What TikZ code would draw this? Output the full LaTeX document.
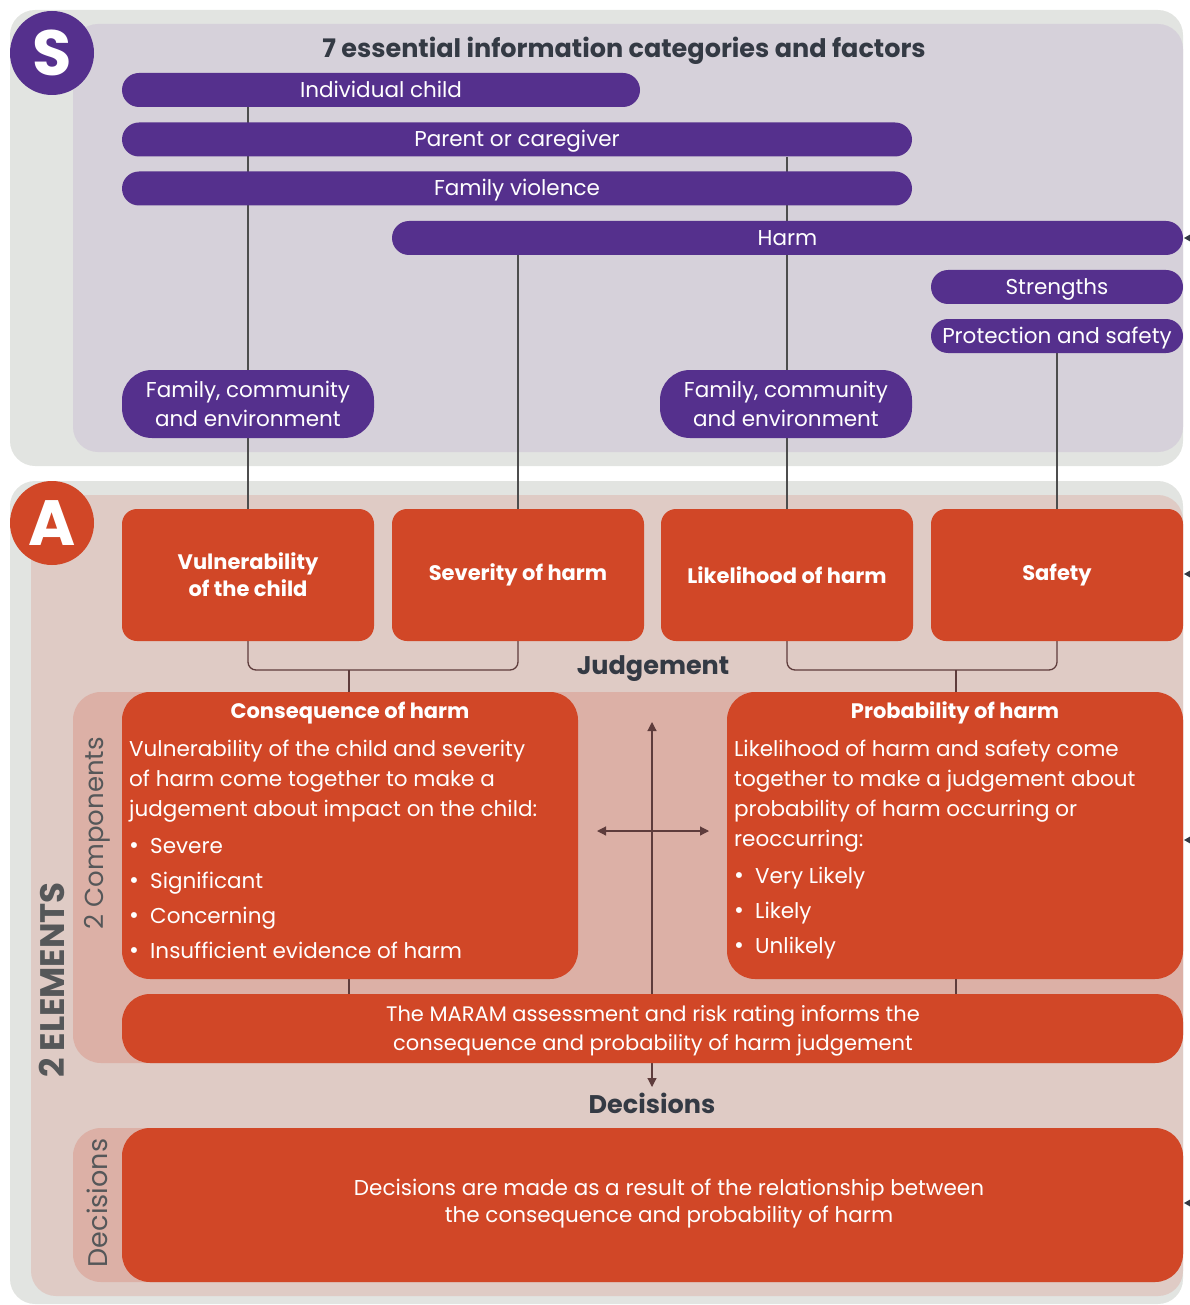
\documentclass[tikz,border=0pt]{standalone}
\usepackage{fontspec}
\setmainfont{Poppins}
\usetikzlibrary{arrows.meta}
\definecolor{lgray}{HTML}{E2E4E1}
\definecolor{lilac}{HTML}{D6D1DA}
\definecolor{pinkbg}{HTML}{DFCBC5}
\definecolor{panelpk}{HTML}{DCB0A6}
\definecolor{vpurple}{HTML}{55308D}
\definecolor{vorange}{HTML}{D14727}
\definecolor{darktxt}{HTML}{343A44}
\definecolor{graytxt}{HTML}{555759}
\definecolor{lineg}{HTML}{4D4D4D}
\definecolor{lineb}{HTML}{5E3C3C}
\newcommand{\blt}{\makebox[21pt][l]{\raisebox{0.5pt}{\fontsize{24}{24}\selectfont\textbullet}}}
\pgfdeclarelayer{back}
\pgfdeclarelayer{lines}
\pgfsetlayers{back,lines,main}
\begin{document}
\begin{tikzpicture}[x=1pt,y=-1pt,
  pill/.style={fill=vpurple,text=white,rounded corners=17pt,minimum height=34pt,inner sep=0pt,font=\fontsize{21.5}{29}\selectfont},
  pone/.style={pill,text height=18pt,text depth=3pt},
  jbox/.style={fill=vorange,text=white,rounded corners=15pt,minimum width=252pt,minimum height=132pt,inner sep=0pt,align=center,font=\bfseries\fontsize{21}{27}\selectfont},
  obox/.style={fill=vorange,rounded corners=28pt,inner sep=0pt},
  wtxt/.style={text=white,inner sep=0pt,font=\fontsize{21.5}{30}\selectfont},
  whead/.style={text=white,inner sep=0pt,font=\bfseries\fontsize{21}{30}\selectfont},
  dhead/.style={text=darktxt,inner sep=0pt,font=\bfseries\fontsize{25.5}{28}\selectfont},
  conn/.style={draw=lineg,line width=1.3pt},
  connb/.style={draw=lineb,line width=1.3pt},
  bigl/.style={circle,minimum size=84pt,inner sep=0pt,text=white,font=\bfseries\fontsize{64}{64}\selectfont},
  sidearrow/.style={fill=darktxt}
]
\useasboundingbox (0,0) rectangle (1190,1305);
\begin{pgfonlayer}{back}
  \fill[lgray,rounded corners=25pt] (10,10) rectangle (1183,466);
  \fill[lilac,rounded corners=25pt] (73,24) rectangle (1183,452);
  \fill[lgray,rounded corners=25pt] (10,481) rectangle (1183,1304);
  \fill[pinkbg,rounded corners=25pt] (31,495) rectangle (1183,1296);
  \fill[panelpk,rounded corners=28pt] (73,692) rectangle (1183,1063);
  \fill[panelpk,rounded corners=28pt] (73,1128) rectangle (1183,1282);
\end{pgfonlayer}

% S section
\node[bigl,fill=vpurple] (S) at (52,53) {S};
\node[dhead] (title) at (624,51) {7 essential information categories and factors};
\node[pone,minimum width=518pt] (ind) at (381,90) {Individual child};
\node[pone,minimum width=790pt] (par) at (517,139.5) {Parent or caregiver};
\node[pone,minimum width=790pt] (fv) at (517,188.5) {Family violence};
\node[pone,minimum width=791pt] (harm) at (787.5,238) {Harm};
\node[pone,minimum width=252pt] (str) at (1057,287) {Strengths};
\node[pone,minimum width=252pt] (prot) at (1057,336) {Protection and safety};
\node[pill,minimum width=252pt,minimum height=68pt,rounded corners=30pt,align=center] (fce1) at (248,404) {Family, community\\and environment};
\node[pill,minimum width=252pt,minimum height=68pt,rounded corners=30pt,align=center] (fce2) at (786,404) {Family, community\\and environment};

% A section
\node[bigl,fill=vorange] (A) at (52,523) {A};
\node[jbox] (vul) at (248,575) {Vulnerability\\of the child};
\node[jbox] (sev) at (518,575) {Severity of harm};
\node[jbox] (lik) at (787,575) {Likelihood of harm};
\node[jbox] (saf) at (1057,575) {Safety};

\node[dhead] (judg) at (653,669) {Judgement};
\coordinate (jb1) at (349,670);
\coordinate (jb2) at (956,670);

\node[obox,minimum width=456pt,minimum height=287pt] (cons) at (350,835.5) {};
\node[obox,minimum width=456pt,minimum height=287pt] (prob) at (955,835.5) {};
\node[whead] (consT) at (350,713) {Consequence of harm};
\node[whead] (probT) at (955,713) {Probability of harm};
\node[wtxt,anchor=north west,align=left] (consB) at (129,740) {Vulnerability of the child and severity\\of harm come together to make a\\judgement about impact on the child:\\[7pt]
\blt Severe\\[5pt]
\blt Significant\\[5pt]
\blt Concerning\\[5pt]
\blt Insufficient evidence of harm};
\node[wtxt,anchor=north west,align=left] (probB) at (734,740) {Likelihood of harm and safety come\\together to make a judgement about\\probability of harm occurring or\\reoccurring:\\[7pt]
\blt Very Likely\\[5pt]
\blt Likely\\[5pt]
\blt Unlikely};

\node[obox,minimum width=1061pt,minimum height=69pt] (maram) at (652.5,1028.5) {};
\node[wtxt,align=center,font=\fontsize{21}{29}\selectfont] (maramT) at (653,1031) {The MARAM assessment and risk rating informs the\\consequence and probability of harm judgement};

\node[dhead] (decH) at (652,1103) {Decisions};
\node[obox,minimum width=1061pt,minimum height=154pt] (dec) at (652.5,1205) {};
\node[wtxt,align=center,font=\fontsize{21.5}{27}\selectfont] (decT) at (669,1204) {Decisions are made as a result of the relationship between\\the consequence and probability of harm};

\node[text=graytxt,inner sep=0pt,rotate=90,font=\fontsize{26}{28}\selectfont] (compL) at (97,833) {2 Components};
\node[text=graytxt,inner sep=0pt,rotate=90,font=\fontsize{27}{28}\selectfont] (decL) at (97,1203) {Decisions};
\node[text=graytxt,inner sep=0pt,rotate=90,font=\bfseries\fontsize{34}{34}\selectfont] (elL) at (52,980) {2 ELEMENTS};

\coordinate (xT) at (652,722);
\coordinate (xB) at (652,1087);
\coordinate (xL) at (597,831);
\coordinate (xR) at (709,831);

\begin{pgfonlayer}{lines}
  \draw[conn] (ind.south -| vul.north) -- (vul.north);
  \draw[conn] (harm.south -| sev.north) -- (sev.north);
  \draw[conn] (par.south -| lik.north) -- (lik.north);
  \draw[conn] (prot.south -| saf.north) -- (saf.north);
  \draw[connb,rounded corners=8pt] (vul.south) |- (jb1) -| (sev.south);
  \draw[connb] (jb1) -- (cons.north -| jb1);
  \draw[connb,rounded corners=8pt] (lik.south) |- (jb2) -| (saf.south);
  \draw[connb] (jb2) -- (prob.north -| jb2);
  \draw[connb] (cons.south -| jb1) -- (maram.north -| jb1);
  \draw[connb] (prob.south -| jb2) -- (maram.north -| jb2);
  \draw[connb,line width=1.2pt,{Triangle[length=9pt,width=9pt]}-{Triangle[length=9pt,width=9pt]}] (xT) -- (xB);
  \draw[connb,line width=1.2pt,{Triangle[length=9pt,width=9pt]}-{Triangle[length=9pt,width=9pt]}] (xL) -- (xR);
\end{pgfonlayer}

% small edge arrowheads
\foreach \yy in {238,574,840,1203}{
  \fill[sidearrow] (1184,\yy) -- (1191,\yy-4) -- (1191,\yy+4) -- cycle;
}
\end{tikzpicture}
\end{document}
